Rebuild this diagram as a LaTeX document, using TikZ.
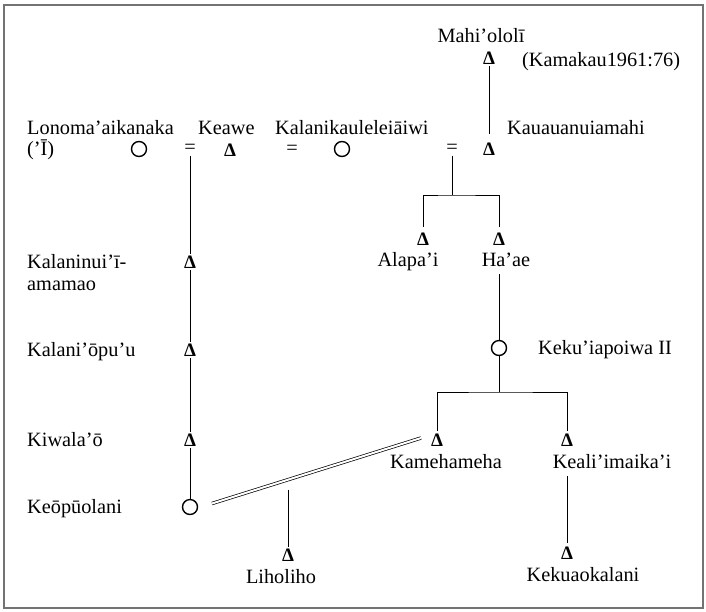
\documentclass[tikz,border=0pt]{standalone}
\usepackage{fontspec}
\setmainfont{Liberation Serif}
\usetikzlibrary{calc}
\begin{document}
\begin{tikzpicture}[x=1pt,y=-1pt,
  every node/.style={font=\fontsize{20.3}{23}\selectfont},
  male/.style={inner sep=2pt,font=\fontsize{19}{23}\selectfont\bfseries},
  female/.style={circle,draw,line width=1.4pt,minimum size=15pt,inner sep=0pt},
  wed/.style={inner sep=2pt},
  lbl/.style={inner sep=2pt,anchor=base west},
  clbl/.style={inner sep=2pt,anchor=base},
  link/.style={line width=0.8pt},
  marriage/.style={double,double distance=2pt,line width=0.7pt}]
\useasboundingbox (0,0) rectangle (706,611);
\draw[line width=1.4pt,black!55] (4,5) rectangle (703,608);

% top generation
\node[male] (mah) at (489,58) {Δ};
\node[clbl] (mahL) at (481,42) {Mahi’ololī};
\node[lbl] (cite) at (520,66) {(Kamakau1961:76)};

\node[female] (lono) at (139,149) {};
\node[lbl] (lonoL) at (25,134) {Lonoma’aikanaka};
\node[lbl] (lonoL2) at (25,155) {(’Ī)};
\node[wed] (eq1) at (190,149) {=};
\node[male] (keawe) at (230,150) {Δ};
\node[lbl] (keaweL) at (196,134) {Keawe};
\node[wed] (eq2) at (292,150) {=};
\node[female] (kalk) at (342,149) {};
\node[lbl] (kalkL) at (273,134) {Kalanikauleleiāiwi};
\node[wed] (eq3) at (452,149) {=};
\node[male] (kau) at (489,149) {Δ};
\node[lbl] (kauL) at (505,134) {Kauauanuiamahi};

% left line of descent
\node[male] (kalan) at (190,262) {Δ};
\node[lbl] (kalanL) at (25,268) {Kalaninui’ī-};
\node[lbl] (kalanL2) at (25,290) {amamao};
\node[male] (kalo) at (190,350) {Δ};
\node[lbl] (kaloL) at (25,356) {Kalani’ōpu’u};
\node[male] (kiwa) at (190,440) {Δ};
\node[lbl] (kiwaL) at (25,446) {Kiwala’ō};
\node[female] (keop) at (190,507) {};
\node[lbl] (keopL) at (25,513) {Keōpūolani};

% right line of descent
\node[male] (alapai) at (423,239) {Δ};
\node[clbl] (alapaiL) at (408,266) {Alapa’i};
\node[male] (haae) at (499,239) {Δ};
\node[clbl] (haaeL) at (506,266) {Ha’ae};
\node[female] (keku) at (499,348) {};
\node[lbl] (kekuL) at (536,354) {Keku’iapoiwa II};
\node[male] (kame) at (437,440) {Δ};
\node[clbl] (kameL) at (446,468) {Kamehameha};
\node[male] (keal) at (567,440) {Δ};
\node[clbl] (kealL) at (612,468) {Keali’imaika’i};
\node[male] (kekua) at (567,553) {Δ};
\node[clbl] (kekuaL) at (583,581) {Kekuaokalani};
\node[male] (lih) at (288,555) {Δ};
\node[clbl] (lihL) at (281,583) {Liholiho};

% sibling junctions
\coordinate (j1) at (452,195);
\coordinate (j2) at (499,392);

% connectors
\draw[link,shorten >=7pt] (mah) -- (kau);
\draw[link] (eq1) -- (kalan);
\draw[link] (kalan) -- (kalo);
\draw[link] (kalo) -- (kiwa);
\draw[link] (kiwa) -- (keop);
\draw[link] (eq3) -- (j1);
\draw[link,shorten <=4pt,shorten >=4pt] (alapai.north) |- (j1) -| (haae.north);
\draw[link,shorten <=6pt] (haae |- haaeL.south) -- (keku);
\draw[link] (keku) -- (j2);
\draw[link,shorten <=1pt,shorten >=1pt] (kame.north) |- (j2) -| (keal.north);
\draw[link,shorten <=6pt,shorten >=2pt] (keal |- kealL.south) -- (kekua);

% marriage of Keopuolani and Kamehameha, with their son
\draw[marriage] ([xshift=22pt,yshift=3.5pt]keop.center) coordinate (mA)
  -- ([xshift=-16pt,yshift=2pt]kame.center) coordinate (mB);
\path (mA) -- (mB) coordinate[pos=0.364] (issue);
\draw[link,shorten <=10pt] (issue) -- (issue |- lih.north);
\end{tikzpicture}
\end{document}
